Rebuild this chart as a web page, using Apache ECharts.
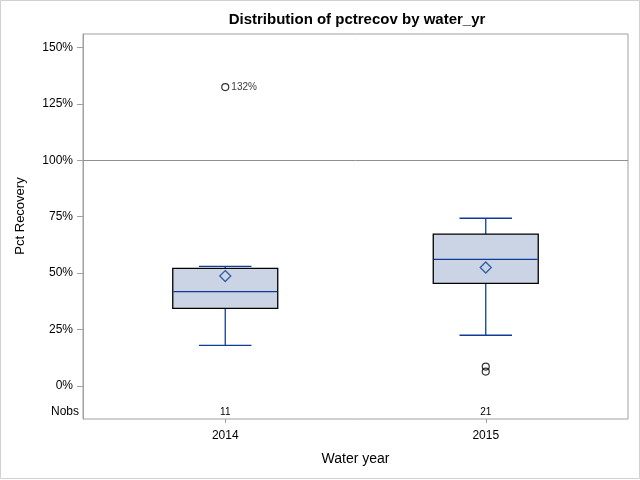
<!DOCTYPE html>
<html>
<head>
<meta charset="utf-8">
<script src="https://cdn.jsdelivr.net/npm/echarts@6/dist/echarts.min.js"></script>
<style>
html,body{margin:0;padding:0;background:#fff;}
#chart{width:640px;height:480px;}
</style>
</head>
<body>
<div id="chart"></div>
<script>
// ---- data ----
const categories = ['2014', '2015'];
const whiskerLow = [18.0, 22.5];
const q1 = [34.4, 45.5];
const median = [41.8, 56.1];
const q3 = [52.1, 67.3];
const whiskerHigh = [53.0, 74.3];
const means = [48.7, 52.5];
const outlierCat = ['2014', '2015', '2015'];
const outlierVal = [132.4, 8.6, 6.4];
const outlierLabeled = [true, false, false];
const nobs = [11, 21];
const yTicks = [0, 25, 50, 75, 100, 125, 150];
const refValue = 100;

// ---- styles ----
const FONT = '"Liberation Sans", Arial, sans-serif';
const FRAME = '#a0a0a0';
const BLUE = '#0f3d96';
const FILL = '#cad4e5';
const Y_MIN = -14.6, Y_MAX = 155.9;
const BOX_RATIO = 0.403;

const boxData = categories.map((c, i) => [i, whiskerLow[i], q1[i], median[i], q3[i], whiskerHigh[i]]);

const chart = echarts.init(document.getElementById('chart'), null, {renderer: 'canvas'});

const option = {
  animation: false,
  backgroundColor: '#fff',
  textStyle: {fontFamily: FONT},
  title: {
    text: 'Distribution of pctrecov by water_yr',
    left: 357, top: 12, padding: 0, textAlign: 'center',
    textStyle: {fontFamily: FONT, fontSize: 15, fontWeight: 'bold', color: '#000'}
  },
  grid: [
    {left: 83, right: 12, top: 34, bottom: 61, show: true, borderColor: FRAME, borderWidth: 1, backgroundColor: 'transparent'},
    {left: 95, right: 24, top: 34, bottom: 61}
  ],
  xAxis: [
    {type: 'value', gridIndex: 0, min: 0, max: 1, show: false},
    {
      type: 'category', gridIndex: 1, data: categories, position: 'bottom',
      axisLine: {show: false, onZero: false},
      axisTick: {show: true, alignWithLabel: true, length: 4, lineStyle: {color: FRAME}},
      axisLabel: {color: '#000', fontSize: 12, margin: 11, fontFamily: FONT},
      name: 'Water year', nameLocation: 'middle', nameGap: 33,
      nameTextStyle: {color: '#000', fontSize: 14, fontFamily: FONT}
    },
    {
      type: 'category', gridIndex: 1, data: categories, position: 'bottom',
      axisLine: {show: false, onZero: false}, axisTick: {show: false},
      axisLabel: {inside: true, margin: 2, color: '#000', fontSize: 10, fontFamily: FONT,
        formatter: (v, i) => String(nobs[i])}
    }
  ],
  yAxis: [
    {
      type: 'value', gridIndex: 0, min: Y_MIN, max: Y_MAX,
      axisLine: {show: true, onZero: false, lineStyle: {color: FRAME}},
      axisTick: {show: true, length: 6, customValues: yTicks, lineStyle: {color: FRAME}},
      axisLabel: {customValues: yTicks, formatter: v => v + '%', color: '#000', fontSize: 12, margin: 10, fontFamily: FONT},
      splitLine: {show: false}
    },
    {type: 'value', gridIndex: 1, min: Y_MIN, max: Y_MAX, show: false}
  ],
  graphic: [
    {type: 'rect', shape: {x: 0.5, y: 0.5, width: 639, height: 478}, style: {fill: 'none', stroke: '#d0d0d0', lineWidth: 1}, silent: true, z: -1},
    {type: 'text', x: 20, y: 216, rotation: Math.PI / 2,
      style: {text: 'Pct Recovery', fontSize: 13, fontFamily: FONT, fill: '#000', align: 'center', verticalAlign: 'middle'}},
    {type: 'text', x: 79, y: 412,
      style: {text: 'Nobs', fontSize: 12, fontFamily: FONT, fill: '#000', align: 'right', verticalAlign: 'middle'}}
  ],
  series: [
    {
      type: 'line', xAxisIndex: 0, yAxisIndex: 0, data: [], silent: true,
      markLine: {
        silent: true, symbol: ['none', 'none'], label: {show: false},
        lineStyle: {color: '#909090', width: 1, type: 'solid'},
        data: [{yAxis: refValue}]
      }
    },
    {
      type: 'custom', xAxisIndex: 1, yAxisIndex: 1, data: boxData,
      encode: {x: 0, y: [1, 2, 3, 4, 5]},
      renderItem: function (params, api) {
        const x = api.value(0);
        const pLo = api.coord([x, api.value(1)]);
        const pQ1 = api.coord([x, api.value(2)]);
        const pMed = api.coord([x, api.value(3)]);
        const pQ3 = api.coord([x, api.value(4)]);
        const pHi = api.coord([x, api.value(5)]);
        const band = api.size([1, 0])[0];
        const bw = band * BOX_RATIO;
        const cw = bw / 2;
        const cx = pMed[0];
        const lineStyle = {stroke: BLUE, lineWidth: 1.3, fill: null};
        return {
          type: 'group',
          children: [
            {type: 'line', shape: {x1: cx, y1: pQ3[1], x2: cx, y2: pHi[1]}, style: lineStyle},
            {type: 'line', shape: {x1: cx, y1: pQ1[1], x2: cx, y2: pLo[1]}, style: lineStyle},
            {type: 'line', shape: {x1: cx - cw / 2, y1: pHi[1], x2: cx + cw / 2, y2: pHi[1]}, style: lineStyle},
            {type: 'line', shape: {x1: cx - cw / 2, y1: pLo[1], x2: cx + cw / 2, y2: pLo[1]}, style: lineStyle},
            {type: 'rect', shape: {x: cx - bw / 2, y: pQ3[1], width: bw, height: pQ1[1] - pQ3[1]},
              style: {fill: FILL, stroke: '#000', lineWidth: 1.3}},
            {type: 'line', shape: {x1: cx - bw / 2 + 0.7, y1: pMed[1], x2: cx + bw / 2 - 0.7, y2: pMed[1]}, style: lineStyle}
          ]
        };
      }
    },
    {
      type: 'scatter', xAxisIndex: 1, yAxisIndex: 1,
      data: categories.map((c, i) => [c, means[i]]),
      symbol: 'diamond', symbolSize: [11, 11],
      itemStyle: {color: 'rgba(0,0,0,0)', borderColor: BLUE, borderWidth: 1.3},
      z: 5
    },
    {
      type: 'scatter', xAxisIndex: 1, yAxisIndex: 1,
      data: outlierCat.map((c, i) => ({
        value: [c, outlierVal[i]],
        label: {show: outlierLabeled[i]}
      })),
      symbol: 'circle', symbolSize: 7,
      itemStyle: {color: 'rgba(0,0,0,0)', borderColor: '#000', borderWidth: 1.2},
      label: {show: false, position: 'right', distance: 2, fontSize: 10, color: '#000', fontFamily: FONT,
        formatter: p => Math.round(p.value[1]) + '%'},
      z: 5
    }
  ]
};
chart.setOption(option);
</script>
</body>
</html>
